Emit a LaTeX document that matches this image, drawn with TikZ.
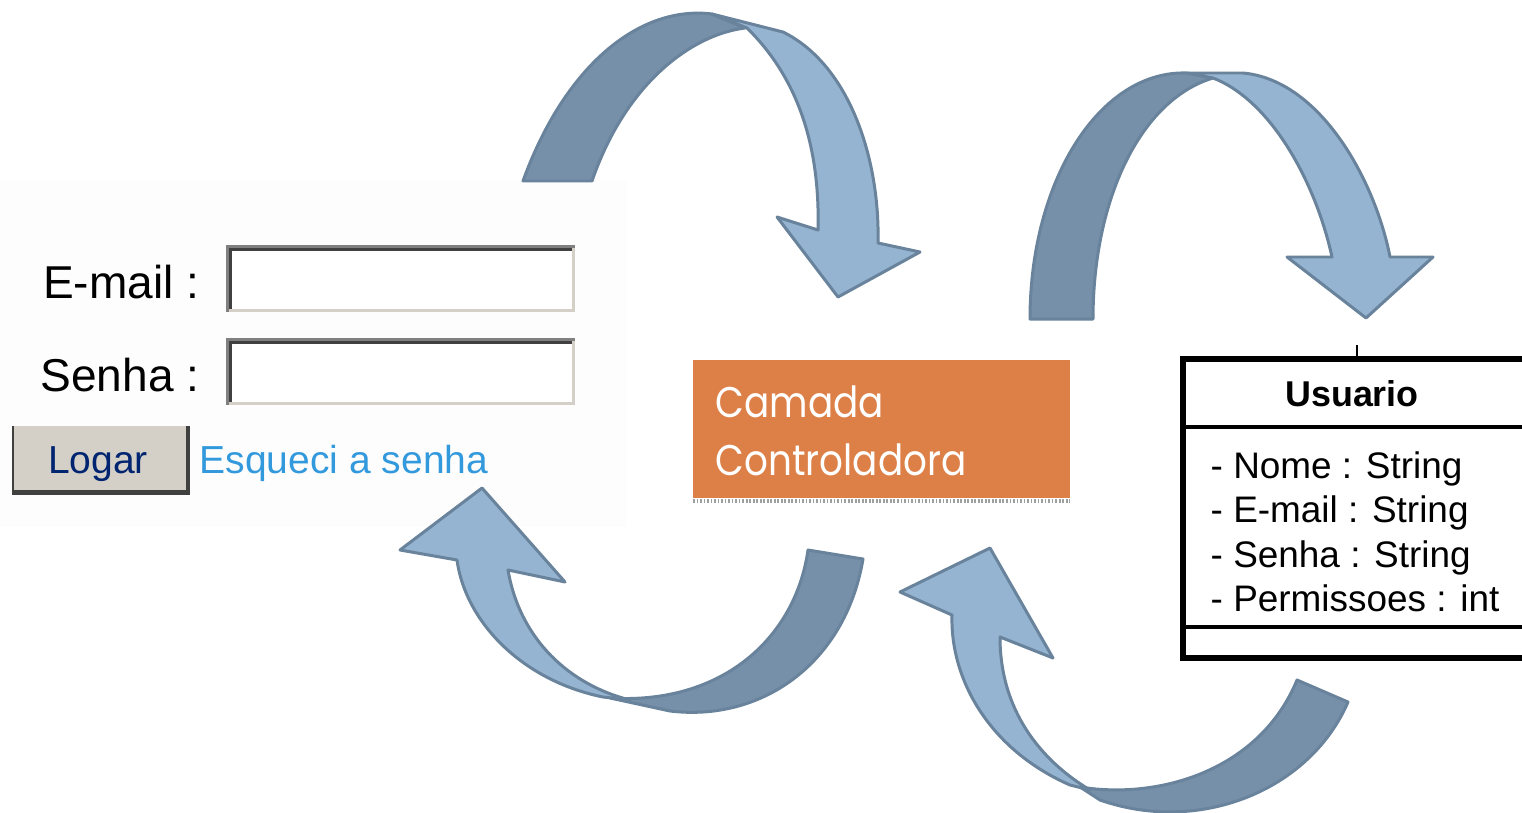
\documentclass[tikz,border=0pt]{standalone}
\usepackage{fontspec}
\setmainfont{Liberation Sans}
\newfontfamily\boxfont{Poppins}[FakeStretch=0.87]
\definecolor{arrowdark}{RGB}{117,144,168}
\definecolor{arrowlight}{RGB}{149,180,209}
\definecolor{arrowline}{RGB}{104,131,155}
\definecolor{ctrlorange}{RGB}{221,128,71}
\definecolor{btnface}{RGB}{212,208,200}
\definecolor{btnshadow}{RGB}{64,64,64}
\definecolor{edgegray}{RGB}{128,128,128}
\definecolor{linknavy}{RGB}{0,36,112}
\definecolor{linkblue}{RGB}{51,153,221}
\definecolor{panelbg}{RGB}{253,253,253}
% one text field of the login form, top edge at y = #1
\newcommand\formfield[1]{%
  \fill[white] (226,#1) rectangle (575,#1+67);
  \fill[edgegray] (226,#1) rectangle (575,#1+3);
  \fill[edgegray] (226,#1) rectangle (229,#1+67);
  \fill[btnshadow] (229,#1+3) rectangle (572,#1+6);
  \fill[btnshadow] (229,#1+3) rectangle (232,#1+64);
  \fill[btnface] (229,#1+64) rectangle (575,#1+67);
  \fill[btnface] (572,#1+3) rectangle (575,#1+67);
}
\begin{document}
\begin{tikzpicture}[x=0.01cm,y=-0.01cm,
  back/.style={fill=arrowdark,draw=arrowline,line width=0.85pt,line join=round},
  front/.style={fill=arrowlight,draw=arrowline,line width=0.85pt,line join=round},
  formlabel/.style={inner sep=0pt,font=\fontsize{13.1}{15}\selectfont,text=black},
  btntext/.style={inner sep=0pt,font=\fontsize{11.1}{13}\selectfont},
  ctrltext/.style={inner sep=0pt,anchor=base west,text=white,font=\boxfont\fontsize{12.2}{17}\selectfont},
  umltext/.style={inner sep=0pt,anchor=base west,font=\fontsize{10.5}{12}\selectfont},
  umlline/.style={line width=1.1pt,black}]
\useasboundingbox (0,0) rectangle (1522,812);
\fill[white] (0,0) rectangle (1522,812);

% login form
\fill[panelbg] (0,180) rectangle (627,527);
\formfield{245}
\formfield{338}
\node[formlabel,anchor=base east] (lblmail) at (200,298) {E-mail :};
\node[formlabel,anchor=base east] (lblsenha) at (200,391) {Senha :};
\fill[btnshadow] (12,426) rectangle (190,495);
\fill[btnface] (14,426) rectangle (186,490);
\node[btntext,text=linknavy,anchor=base] (logar) at (98,473) {Logar};
\node[btntext,text=linkblue,anchor=base west] (esqueci) at (199,473) {Esqueci a senha};

% upper left curved arrow
\draw[back] (523,181) .. controls (565,65) and (640,5) .. (712,14) -- (745,28)
  .. controls (690,35) and (625,85) .. (592,181) -- cycle;
\draw[front] (712,14) -- (783,32) .. controls (850,65) and (880,160) .. (878,243)
  -- (920,252) -- (838,297) -- (777,217) -- (818,230)
  .. controls (820,150) and (800,80) .. (747,28) -- cycle;

% upper right curved arrow
\draw[back] (1030,319) .. controls (1030,180) and (1100,70) .. (1187,73) -- (1213,78)
  .. controls (1140,100) and (1093,200) .. (1093,319) -- cycle;
\draw[front] (1187,73) -- (1243,73) .. controls (1320,80) and (1375,180) .. (1390,257)
  -- (1433,257) -- (1366,318) -- (1287,257) -- (1332,257)
  .. controls (1315,180) and (1270,100) .. (1213,78) -- cycle;

% lower left curved arrow
\draw[back] (808,550) -- (863,559) .. controls (845,665) and (760,722) .. (670,711)
  -- (610,698) .. controls (720,705) and (795,640) .. (808,550) -- cycle;
\draw[front] (603,697) .. controls (520,680) and (465,620) .. (457,560)
  -- (400,550) -- (482,488) -- (565,582) -- (508,570)
  .. controls (520,640) and (570,685) .. (630,700) -- cycle;

% lower right curved arrow
\begin{scope}
\clip (0,0) rectangle (1522,812);
\draw[back] (1297,680) -- (1348,702) .. controls (1310,790) and (1200,835) .. (1100,800)
  -- (1080,787) .. controls (1160,800) and (1260,770) .. (1297,680) -- cycle;
\draw[front] (1070,785) .. controls (990,750) and (950,680) .. (952,615)
  -- (900,592) -- (990,548) -- (1053,658) -- (1000,637)
  .. controls (1000,710) and (1040,760) .. (1090,790) -- cycle;
\end{scope}

% controller layer
\fill[ctrlorange] (693,360) rectangle (1070,498);
\draw[gray!75,line width=1.2pt,dash pattern=on 0.5pt off 0.5pt] (693,501) -- (1070,501);
\node[ctrltext] (camada) at (715,417) {Camada};
\node[ctrltext] (controladora) at (715,475) {Controladora};

% Usuario class
\begin{scope}
\clip (0,0) rectangle (1522,812);
\fill[white] (1183,359) rectangle (1540,658);
\draw[black,line width=1.5pt] (1183,359) rectangle (1545,658);
\draw[umlline] (1183,427) -- (1545,427);
\draw[umlline] (1183,627) -- (1545,627);
\draw[black,line width=0.6pt] (1357,345) -- (1357,357);
\end{scope}
\node[inner sep=0pt,anchor=base,font=\bfseries\fontsize{10.2}{12}\selectfont] (usuario) at (1352,406) {Usuario};
\node[umltext] (nome) at (1210,478) {- Nome : String};
\node[umltext] (email) at (1210,522) {- E-mail : String};
\node[umltext] (senha) at (1210,567) {- Senha : String};
\node[umltext] (perm) at (1210,611) {- Permissoes : int};
\end{tikzpicture}
\end{document}
